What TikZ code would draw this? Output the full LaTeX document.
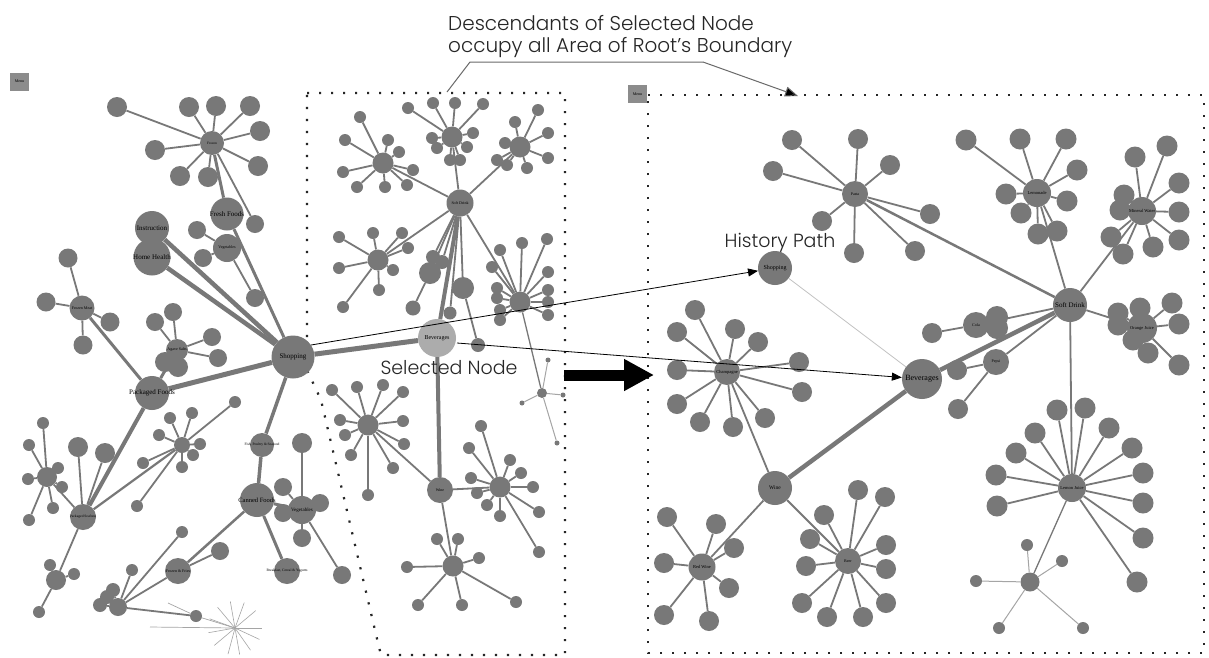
\documentclass[tikz,border=0pt]{standalone}
\usepackage{fontspec}
\setmainfont{Liberation Serif}
\newfontfamily\annfont{Poppins}[UprightFont=* Light]
\usetikzlibrary{arrows.meta}
\definecolor{ng}{RGB}{120,120,120}
\definecolor{selgray}{RGB}{172,172,172}
\definecolor{menugray}{RGB}{140,140,140}
\definecolor{thingray}{RGB}{165,165,165}
\definecolor{histgray}{RGB}{195,195,195}
\definecolor{anngray}{RGB}{105,105,105}
\tikzset{
  nd/.style={circle,fill=ng,inner sep=0pt,minimum size=#1},
  lnk/.style={draw=ng,line width=#1},
  lnk/.default=1.8pt,
  lightlnk/.style={draw=thingray,line width=1pt},
  lbl/.style={font=\fontsize{#1}{#1}\selectfont,inner sep=0pt,text=black},
  bnd/.style={draw=black!85,line width=2.2pt,dash pattern=on 2.2pt off 9.8pt},
  ann/.style={font=\annfont\fontsize{20}{22}\selectfont,inner sep=0pt,text=black!85},
  hist/.style={draw=black,line width=0.8pt,-{Triangle[length=10pt,width=8pt]}},
  menubox/.style={fill=menugray,minimum width=19pt,minimum height=18pt,inner sep=0pt,font=\fontsize{4}{4}\selectfont}
}
\newcommand\clus[5][]{%
  \node[nd=#4] (#2) at (#3) {};
  \foreach \cx/\cy/\cd [count=\ci] in {#5} {%
    \node[nd=\cd] (#2-\ci) at (\cx,\cy) {};
    \draw[lnk,#1] (#2) -- (#2-\ci);
  }%
}
\begin{document}
\begin{tikzpicture}[x=1pt,y=-1pt]
\useasboundingbox (0,0) rectangle (1209,657);
\fill[white] (0,0) rectangle (1209,657);

% ---------------- annotation ----------------
\node[ann,anchor=west] (t1) at (448,23) {Descendants of Selected Node};
\node[ann,anchor=west] (t2) at (448,48) {occupy all Area of Root’s Boundary};
\coordinate (u0) at (447,92);
\coordinate (u1) at (470,62);
\coordinate (u2) at (703,62);
\coordinate (u3) at (798,96);
\draw[anngray,line width=1pt] (u0) -- (u1) -- (u2);
\draw[anngray,line width=1pt,-{Triangle[length=13pt,width=10pt,fill=black]}] (u2) -- (u3);

% ---------------- boundaries ----------------
\draw[bnd] (307,93) -- (565,93) -- (565,655) -- (381,655) -- (378,643) -- (321,400) -- (307,370) -- cycle;
\draw[bnd] (648,95) -- (1204,95) -- (1204,653) -- (648,653) -- cycle;
\node[menubox] (menuL) at (19.5,81.5) {Menu};
\node[menubox] (menuR) at (637.5,94) {Menu};

% ---------------- left panel ----------------
\node[nd=43] (shopL) at (293,357) {};
\clus{frozen}{212,143}{24}{117/107/20, 189/107/20, 216/106/20, 250/106/20, 260/131/20, 258/166/20, 155/150/20, 180/176/20, 208/177/20, 255/224/18}
\node[nd=33] (fresh) at (227,214) {};
\clus{vegL}{227,248}{28}{203/258/18, 197/230/18, 255/298/18}
\node[nd=34] (instr) at (152,228) {};
\node[nd=37] (home) at (152,257) {};
\draw[lnk=4.5pt] (shopL) -- (instr);
\draw[lnk=4.5pt] (shopL) -- (home);
\draw[lnk=3pt] (shopL) -- (fresh);
\draw[lnk=3pt] (frozen) -- (fresh);

\clus{fmeat}{82,308}{25}{68/258/19, 46/302/19, 110/322/19, 83/345/19}
\clus{agave}{177,350}{22}{173/312/18, 155/322/18, 212/337/18, 218/358/18, 165/362/20, 178/367/20}
\node[nd=34] (pack) at (152,393) {};
\draw[lnk=5pt] (pack) -- (shopL);
\draw[lnk=3pt] (pack) -- (fmeat);
\draw[lnk=3pt] (pack) -- (agave);

\clus{pseaf}{83,517}{26}{78/447/20, 105/453/20}
\draw[lnk=4pt] (pack) -- (pseaf);
\clus{psa}{47,477}{20}{43/423/12, 29/445/12, 28/479/12, 58/468/12, 62/487/12, 53/508/12, 29/520/12}
\draw[lnk] (psa) -- (pseaf);
\clus{psb}{56,580}{20}{50/565/12, 74/574/12, 39/612/12}
\draw[lnk] (psb) -- (pseaf);
\clus{psc}{182,445}{16}{170/418/12, 192/413/12, 235/402/12, 200/444/12, 193/455/12, 182/467/12, 159/435/12, 143/463/12, 137/506/12}
\draw[lnk=2.2pt] (psc) -- (pseaf);

\node[nd=34] (canned) at (257,500) {};
\node[nd=24] (fish) at (262,445) {};
\draw[lnk=3.5pt] (shopL) -- (fish);
\draw[lnk=3.5pt] (fish) -- (canned);
\clus{vegLb}{302,510}{28}{283/487/18, 283/513/18, 320/503/18, 302/538/18, 342/575/18}
\node[nd=20] (fishc) at (302,443) {};
\draw[lnk] (vegLb) -- (fishc);
\draw[lnk=3pt] (canned) -- (vegLb);
\clus{ffries}{178,571}{26}{220/551/18}
\clus{lowc}{118,607}{18}{100/605/14, 113/590/14, 107/597/14, 132/570/12, 182/532/12, 196/616/12}
\draw[lnk=2.5pt] (canned) -- (ffries);
\draw[lnk] (lowc) -- (ffries);
\node[nd=26] (breads) at (287,571) {};
\draw[lnk=3pt] (canned) -- (breads);
\coordinate (sb) at (235,628);
\coordinate (sbl) at (150,627);
\coordinate (sbt) at (168,603);
\foreach \a in {0,25,55,80,105,140,170,200,230,260,290,320}
  \draw[thingray,line width=0.6pt] (sb) -- ++(\a:27);
\draw[thingray,line width=0.7pt] (sbl) -- (sb);
\draw[thingray,line width=0.7pt] (lowc-6) -- (sb);
\draw[thingray,line width=0.7pt] (sbt) -- (lowc-6);

% ---------------- middle region ----------------
\node[nd=38,fill=selgray] (bevM) at (437,338) {};
\clus{softM}{460,203}{27}{430/273/22, 433/257/14, 442/262/14, 463/288/22, 450/313/13}
\node[nd=15] (m6) at (413,308) {};
\draw[lnk] (softM-1) -- (m6);
\node[nd=14] (m7) at (478,345) {};
\draw[lnk] (softM-4) -- (m7);
\draw[lnk=4pt] (bevM) -- (softM);
\draw[lnk=5pt] (shopL) -- (bevM);
\clus{cA}{383,163}{21}{360/117/12, 345/140/12, 388/140/12, 399/152/12, 413/170/12, 343/172/12, 357/187/12, 385/187/12, 407/185/12}
\draw[lnk] (cA) -- (softM);
\clus{cB}{452,137}{21}{408/108/12, 433/103/12, 455/103/12, 483/104/12, 473/133/12, 467/147/12, 432/138/12, 437/148/12, 450/160/12, 460/160/12}
\draw[lnk] (cB) -- (softM);
\clus{cC}{520,147}{21}{515/122/12, 538/110/12, 548/133/12, 548/158/12, 527/168/12, 505/143/12, 497/160/12, 507/165/12}
\draw[lnk] (cC) -- (softM);
\clus{cD}{378,260}{21}{339/237/12, 373/233/12, 402/233/12, 408/248/12, 339/268/12, 393/270/12, 379/290/12, 343/307/12}
\draw[lnk] (cD) -- (softM);
\clus{cE}{520,302}{21}{500/250/12, 522/243/12, 547/239/12, 548/272/12, 548/290/12, 548/302/12, 548/315/12, 492/267/12, 497/288/12, 497/298/12, 500/310/12, 500/320/12}
\draw[lnk] (cE) -- (softM);
\clus[lightlnk]{sS}{542,393}{10}{548/360/5, 563/395/5, 522/403/5, 557/443/5}
\draw[lnk=1.3pt] (cE) -- (sS);

\node[nd=26] (wineM) at (440,490) {};
\draw[lnk=4pt] (bevM) -- (wineM);
\clus{cF}{368,425}{21}{332/390/12, 357/387/12, 383/385/12, 403/392/12, 340/420/12, 345/435/12, 403/421/12, 404/444/12, 351/455/12, 393/468/12, 368/495/12}
\draw[lnk] (cF) -- (wineM);
\clus{cG}{500,487}{21}{481/426/12, 469/448/12, 510/460/12, 521/473/12, 471/478/12, 477/493/12, 487/505/12, 500/516/12, 533/487/12, 539/512/12, 539/552/12}
\draw[lnk] (cG) -- (wineM);
\clus{cH}{453,566}{21}{437/539/12, 458/539/12, 479/558/12, 407/567/12, 418/605/12, 462/605/12, 516/602/12}
\draw[lnk] (cH) -- (wineM);

% ---------------- right panel ----------------
\node[nd=34] (shopR) at (775,268) {};
\node[nd=40] (bevR) at (922,379) {};
\node[nd=34] (softR) at (1070,305) {};
\draw[histgray,line width=0.8pt] (shopR) -- (bevR);
\clus{pasta}{855,194}{26}{792/140/20, 858/139/20, 890/165/20, 773/171/20, 822/221/20, 854/253/20, 915/251/20, 930/214/20}
\draw[lnk=2.5pt] (pasta) -- (softR);
\clus{lemon}{1037,193}{28}{966/140/21, 1020/139/21, 1066/139/21, 1077/170/21, 1006/194/21, 1067/201/21, 1021/213/21, 1038/234/21, 1057/231/21}
\draw[lnk] (lemon) -- (softR);
\clus{minw}{1142,211}{28}{1135/157/21, 1167/146/21, 1179/183/21, 1179/212/21, 1179/240/21, 1153/247/21, 1123/254/21, 1111/237/21, 1120/210/21, 1124/195/21}
\draw[lnk] (minw) -- (softR);
\clus{oj}{1142,328}{30}{1118/313/21, 1118/325/21, 1140/308/21, 1172/303/21, 1179/324/21, 1148/353/21, 1179/365/21, 1133/340/21}
\draw[lnk] (oj) -- (softR);
\clus{cola}{976,325}{26}{997/317/22, 997/328/22, 932/333/20}
\draw[lnk] (cola) -- (softR);
\clus{pepsi}{996,362}{26}{957/370/20, 958/409/20}
\draw[lnk] (pepsi) -- (softR);
\draw[lnk=4.5pt] (bevR) -- (softR);
\clus{lj}{1072,488}{28}{1057/410/21, 1085/408/21, 1109/428/21, 1132/448/21, 1143/473/21, 1143/503/21, 1143/538/21, 1137/582/21, 1035/433/21, 1016/453/21, 996/475/21, 997/506/21}
\draw[lnk] (lj) -- (softR);
\clus[lightlnk]{ljs}{1030,582}{19}{1027/545/12, 1062/561/12, 976/581/12, 999/628/12, 1083/628/12}
\draw[lnk=1.3pt] (lj) -- (ljs);
\node[nd=34] (wineR) at (775,488) {};
\draw[lnk=4.5pt] (bevR) -- (wineR);
\clus{champ}{727,372}{26}{695/310/20, 677/332/20, 735/329/20, 758/342/20, 677/370/20, 799/362/20, 802/392/20, 677/404/20, 700/422/20, 733/427/20, 765/418/20}
\draw[lnk] (champ) -- (wineR);
\clus{redw}{702,567}{27}{667/517/20, 716/524/20, 734/548/20, 664/563/20, 729/588/20, 664/615/20, 709/621/20}
\draw[lnk] (redw) -- (wineR);
\clus{beer}{848,561}{26}{858/490/20, 885/497/20, 824/515/20, 810/539/20, 886/545/20, 886/569/20, 806/566/20, 886/603/20, 802/603/20, 827/617/20, 863/617/20}
\draw[lnk] (beer) -- (wineR);

% ---------------- history path arrows ----------------
\coordinate (h1) at (311,345);
\coordinate (h2) at (457,343);
\draw[hist] (h1) -- (shopR);
\draw[hist] (h2) -- (bevR);
\coordinate (ba1) at (564,375);
\coordinate (ba2) at (654,375);
\draw[black,line width=11pt,-{Triangle[length=30pt,width=30pt]}] (ba1) -- (ba2);

% ---------------- labels ----------------
\node[lbl=7] at (shopL) {Shopping};
\node[lbl=3.5] at (frozen) {Frozen};
\node[lbl=7] at (fresh) {Fresh Foods};
\node[lbl=4] at (vegL) {Vegetables};
\node[lbl=7] at (instr) {Instruction};
\node[lbl=7] at (home) {Home Health};
\node[lbl=4] at (fmeat) {Frozen Meat};
\node[lbl=4] at (agave) {Agave Salts};
\node[lbl=7] at (pack) {Packaged Foods};
\node[lbl=3.6] at (pseaf) {Packaged Seafood};
\node[lbl=6.5] at (canned) {Canned Foods};
\node[lbl=3.6] at (fish) {Fish, Poultry \& Seafood};
\node[lbl=5] at (vegLb) {Vegetables};
\node[lbl=4] at (ffries) {Frozen \& Fries};
\node[lbl=3.6] at (breads) {Breakfast, Cereal \& Yogurts};
\node[lbl=6] at (bevM) {Beverages};
\node[lbl=4] at (softM) {Soft Drink};
\node[lbl=4] at (wineM) {Wine};
\node[lbl=6] at (shopR) {Shopping};
\node[lbl=8] at (bevR) {Beverages};
\node[lbl=7] at (softR) {Soft Drink};
\node[lbl=4] at (pasta) {Pasta};
\node[lbl=4.5] at (lemon) {Lemonade};
\node[lbl=4.5] at (minw) {Mineral Water};
\node[lbl=4.5] at (oj) {Orange Juice};
\node[lbl=4] at (cola) {Cola};
\node[lbl=4] at (pepsi) {Pepsi};
\node[lbl=4.5] at (lj) {Lemon Juice};
\node[lbl=4.5] at (champ) {Champagne};
\node[lbl=5.5] at (wineR) {Wine};
\node[lbl=4.5] at (redw) {Red Wine};
\node[lbl=4] at (beer) {Beer};
\node[ann,font=\annfont\fontsize{19}{22}\selectfont] (selt) at (449,368) {Selected Node};
\node[ann,font=\annfont\fontsize{19}{22}\selectfont] (hpt) at (780,243) {History Path};
\end{tikzpicture}
\end{document}
